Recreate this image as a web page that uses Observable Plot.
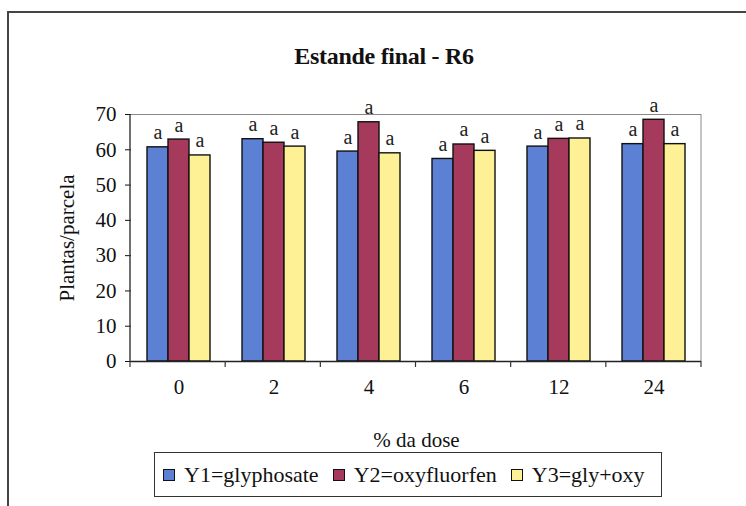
<!DOCTYPE html>
<html>
<head>
<meta charset="utf-8">
<script src="https://cdn.jsdelivr.net/npm/d3@7"></script>
<script src="https://cdn.jsdelivr.net/npm/@observablehq/plot@0.6"></script>
<style>
  html, body { margin: 0; padding: 0; background: #fff; }
  #wrap { position: relative; width: 746px; height: 506px; overflow: hidden; font-family: "Liberation Serif", "Times New Roman", serif; color: #111; }
  #frame { position: absolute; left: 7px; top: 11px; width: 800px; height: 600px; border-left: 2px solid #444; border-top: 2px solid #444; }
  #title { position: absolute; left: 234px; width: 300px; top: 44px; text-align: center; font-size: 24px; line-height: 24px; font-weight: bold; letter-spacing: -0.3px; }
  #chart { position: absolute; left: 0; top: 0; }
  #legend { position: absolute; left: 154px; top: 452px; width: 508px; height: 45px; border: 1.5px solid #333; display: flex; align-items: center; padding-left: 8px; box-sizing: border-box; font-size: 22px; }
  .item { display: flex; align-items: center; margin-right: 14px; }
  .sw { width: 10px; height: 10px; border: 1px solid #111; margin-right: 9px; }
</style>
</head>
<body>
<div id="wrap">
  <div id="frame"></div>
  <div id="chart"></div>
  <div id="title">Estande final - R6</div>
  <div id="legend"></div>
</div>
<script>
const title = "Estande final - R6";
const doses = ["0", "2", "4", "6", "12", "24"];
const series = ["Y1=glyphosate", "Y2=oxyfluorfen", "Y3=gly+oxy"];
const colors = ["#5b80d4", "#a53a5c", "#fdf095"];
const y1 = [60.7, 63.0, 59.5, 57.4, 60.9, 61.6];
const y2 = [62.9, 62.0, 67.8, 61.5, 63.1, 68.5];
const y3 = [58.4, 60.9, 59.0, 59.7, 63.2, 61.6];
const letters1 = ["a", "a", "a", "a", "a", "a"];
const letters2 = ["a", "a", "a", "a", "a", "a"];
const letters3 = ["a", "a", "a", "a", "a", "a"];
const yTicks = [0, 10, 20, 30, 40, 50, 60, 70];
const xLabel = "% da dose";
const yLabel = "Plantas/parcela";

const values = [y1, y2, y3];
const letters = [letters1, letters2, letters3];
const data = [];
doses.forEach((d, i) => series.forEach((s, j) => data.push({dose: d, series: s, value: values[j][i], letter: letters[j][i]})));

const font = "'Liberation Serif', 'Times New Roman', serif";
const plot = Plot.plot({
  width: 746,
  height: 506,
  marginLeft: 130,
  marginRight: 45,
  marginTop: 114,
  marginBottom: 145,
  style: {fontFamily: font, background: "transparent", color: "#111"},
  fx: {domain: doses, padding: 0},
  x: {domain: series, paddingInner: 0, paddingOuter: 0.73, axis: null},
  y: {domain: [0, 70]},
  color: {domain: series, range: colors},
  marks: [
    Plot.ruleY([70], {stroke: "#888", strokeWidth: 1}),
    Plot.barY(data, {fx: "dose", x: "series", y: "value", fill: "series", stroke: "#111", strokeWidth: 1.4}),
    Plot.text(data, {fx: "dose", x: "series", y: "value", text: "letter", lineAnchor: "bottom", dy: -8, fontSize: 20, fill: "#222", fontFamily: font}),
    Plot.ruleY([0], {stroke: "#222", strokeWidth: 1.4}),
    Plot.axisY({ticks: yTicks, tickSize: 6, tickPadding: 9, fontSize: 21, fontFamily: font, label: yLabel, labelAnchor: "center", labelOffset: 72, labelArrow: false}),
    Plot.axisFx({anchor: "bottom", tickSize: 0, tickPadding: 18, fontSize: 21, fontFamily: font, label: xLabel, labelAnchor: "center", labelOffset: 85, labelArrow: false})
  ]
});
document.getElementById("chart").appendChild(plot);

// axis line, right frame line and category boundary ticks from the library's scales
const fx = plot.scale("fx");
const ys = plot.scale("y");
const [r0, r1] = fx.range;
const step = (r1 - r0) / fx.domain.length;
const svg = d3.select(plot);
const g = svg.append("g");
const yTop = ys.apply(70), yBot = ys.apply(0);
g.append("line").attr("x1", r1).attr("x2", r1).attr("y1", yTop).attr("y2", yBot).attr("stroke", "#888");
g.append("line").attr("x1", r0).attr("x2", r0).attr("y1", yTop).attr("y2", yBot).attr("stroke", "#333").attr("stroke-width", 1.4);
d3.range(fx.domain.length + 1).forEach(i => {
  const x = r0 + i * step;
  g.append("line").attr("x1", x).attr("x2", x).attr("y1", yBot).attr("y2", yBot + 6).attr("stroke", "#333").attr("stroke-width", 1.2);
});

// legend
const legend = document.getElementById("legend");
series.forEach((s, j) => {
  const it = document.createElement("div");
  it.className = "item";
  const sw = document.createElement("div");
  sw.className = "sw";
  sw.style.background = colors[j];
  const t = document.createElement("span");
  t.textContent = s;
  it.appendChild(sw); it.appendChild(t);
  legend.appendChild(it);
});
</script>
</body>
</html>
